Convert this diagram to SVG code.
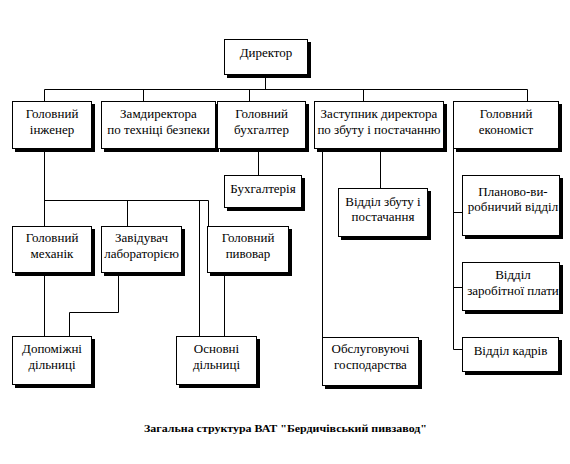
<svg xmlns="http://www.w3.org/2000/svg" width="570" height="464" viewBox="0 0 570 464">
<style>
.sh{fill:#000}
.bx{fill:#fff;stroke:#000;stroke-width:1}
.t{font-family:'Liberation Serif','Times New Roman',Tinos,'DejaVu Serif',serif;font-size:13px;fill:#000;text-anchor:middle}
.c{fill:none;stroke:#000;stroke-width:1}
.cap{font-family:'Liberation Serif','Times New Roman','DejaVu Serif',serif;font-size:11px;font-weight:bold;fill:#000}
</style>
<rect width="570" height="464" fill="#fff"/>
<g id="connectors" class="c">
<path d="M265.5 75V89.5M44.5 89.5H527.5M44.5 89.5V101M143.5 89.5V101M249.5 89.5V101M363.5 89.5V101M527.5 89.5V101"/>
<path d="M44.5 149V226M44.5 200.5H208.5M127.5 200.5V226M199.5 200.5V336M208.5 200.5V226"/>
<path d="M44.5 273V336M118.5 273V312.5H69.5V336M224.5 273V336"/>
<path d="M258.5 149V175M380.5 149V188M322.5 149V337"/>
<path d="M453.5 149V349.5M453.5 212.5H462M453.5 287.5H462M453.5 349.5H462"/>
</g>
<g id="n-director"><rect class="sh" x="227" y="42" width="84" height="36"/><rect class="bx" x="224.5" y="39.5" width="83" height="35"/><text class="t" x="266" y="57">Директор</text></g>
<g id="n-engineer"><rect class="sh" x="15" y="104" width="80" height="48"/><rect class="bx" x="12.5" y="101.5" width="79" height="47"/><text class="t" x="52" y="118">Головний</text><text class="t" x="52" y="134">інженер</text></g>
<g id="n-safety"><rect class="sh" x="104" y="104" width="115" height="48"/><rect class="bx" x="101.5" y="101.5" width="114" height="47"/><text class="t" x="158.5" y="118">Замдиректора</text><text class="t" x="158.5" y="134">по техніці безпеки</text></g>
<g id="n-accountant"><rect class="sh" x="220" y="104" width="89" height="48"/><rect class="bx" x="217.5" y="101.5" width="88" height="47"/><text class="t" x="261.5" y="118">Головний</text><text class="t" x="261.5" y="134">бухгалтер</text></g>
<g id="n-deputy"><rect class="sh" x="317" y="104" width="130" height="48"/><rect class="bx" x="314.5" y="101.5" width="129" height="47"/><text class="t" x="379" y="118">Заступник директора</text><text class="t" x="379" y="134">по збуту і постачанню</text></g>
<g id="n-economist"><rect class="sh" x="456" y="104" width="106" height="48"/><rect class="bx" x="453.5" y="101.5" width="105" height="47"/><text class="t" x="506" y="118">Головний</text><text class="t" x="506" y="134">економіст</text></g>
<g id="n-accounting"><rect class="sh" x="227" y="178" width="78" height="33"/><rect class="bx" x="224.5" y="175.5" width="77" height="32"/><text class="t" x="263" y="193">Бухгалтерія</text></g>
<g id="n-sales"><rect class="sh" x="341" y="191" width="90" height="49"/><rect class="bx" x="338.5" y="188.5" width="89" height="48"/><text class="t" x="383" y="206">Відділ збуту і</text><text class="t" x="383" y="221">постачання</text></g>
<g id="n-planning"><rect class="sh" x="465" y="178" width="98" height="61"/><rect class="bx" x="462.5" y="175.5" width="97" height="60"/><text class="t" x="513" y="196">Планово-ви-</text><text class="t" x="513" y="211">робничий відділ</text></g>
<g id="n-wages"><rect class="sh" x="465" y="265" width="98" height="49"/><rect class="bx" x="462.5" y="262.5" width="97" height="48"/><text class="t" x="513" y="279">Відділ</text><text class="t" x="513" y="295">заробітної плати</text></g>
<g id="n-hr"><rect class="sh" x="465" y="340" width="97" height="35"/><rect class="bx" x="462.5" y="337.5" width="96" height="34"/><text class="t" x="510.5" y="355">Відділ кадрів</text></g>
<g id="n-mechanic"><rect class="sh" x="15" y="229" width="80" height="47"/><rect class="bx" x="12.5" y="226.5" width="79" height="46"/><text class="t" x="52" y="242">Головний</text><text class="t" x="52" y="258">механік</text></g>
<g id="n-lab"><rect class="sh" x="104" y="229" width="81" height="47"/><rect class="bx" x="101.5" y="226.5" width="80" height="46"/><text class="t" x="141.5" y="242">Завідувач</text><text class="t" x="141.5" y="258">лабораторією</text></g>
<g id="n-brewer"><rect class="sh" x="210" y="229" width="82" height="47"/><rect class="bx" x="207.5" y="226.5" width="81" height="46"/><text class="t" x="248" y="242">Головний</text><text class="t" x="248" y="258">пивовар</text></g>
<g id="n-auxiliary"><rect class="sh" x="15" y="339" width="80" height="49"/><rect class="bx" x="12.5" y="336.5" width="79" height="48"/><text class="t" x="52" y="353">Допоміжні</text><text class="t" x="52" y="369">дільниці</text></g>
<g id="n-main"><rect class="sh" x="179" y="339" width="81" height="49"/><rect class="bx" x="176.5" y="336.5" width="80" height="48"/><text class="t" x="216.5" y="353">Основні</text><text class="t" x="216.5" y="369">дільниці</text></g>
<g id="n-service"><rect class="sh" x="325" y="340" width="97" height="49"/><rect class="bx" x="322.5" y="337.5" width="96" height="48"/><text class="t" x="370.5" y="353">Обслуговуючі</text><text class="t" x="370.5" y="369">господарства</text></g>
<text class="cap" x="144" y="432" textLength="283" lengthAdjust="spacingAndGlyphs">Загальна структура ВАТ "Бердичівський пивзавод"</text>
</svg>
